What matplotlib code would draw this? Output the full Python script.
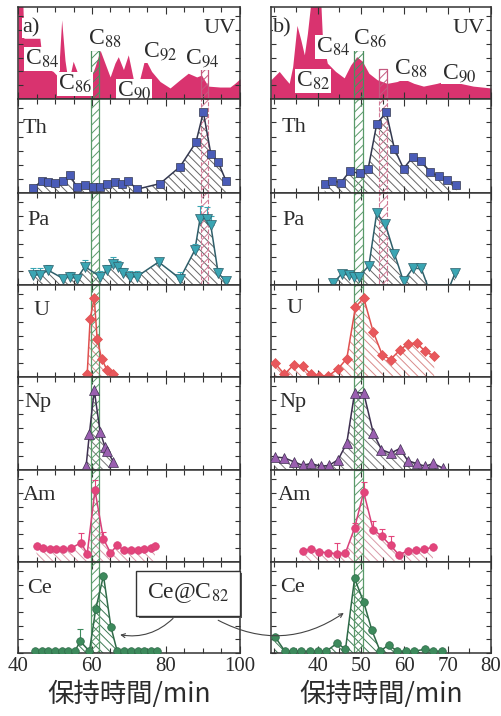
import numpy as np
import matplotlib
matplotlib.use('Agg')
import matplotlib.pyplot as plt
from matplotlib.ticker import MultipleLocator, FixedLocator
from matplotlib.text import Annotation
import matplotlib.patheffects as pe

plt.rcParams['font.family'] = ['Liberation Serif', 'DejaVu Serif']
plt.rcParams['mathtext.fontset'] = 'stix'
plt.rcParams['hatch.linewidth'] = 0.7

# ---------------- data (normalised intensities, retention time in min) ----------------
# UV traces
uv_a_x = [40.0, 41.3, 41.6, 45.9, 46.8, 49.5, 50.9, 51.8, 52.7, 53.6, 54.9, 56.8, 58.4, 59.5, 60.8,
          62.2, 63.5, 64.9, 66.2, 67.1, 68.5, 69.8, 71.2, 72.5, 74.3, 76.1, 78.4, 81.1, 83.8, 86.0,
          88.3, 89.6, 91.4, 94.6, 97.3, 98.6, 100.0]
uv_a_y = [1.05, 1.05, 0.66, 0.66, 0.35, 0.30, 0.24, 0.86, 0.42, 0.17, 0.41, 0.21, 0.13, 0.21, 0.35,
          0.53, 0.39, 0.24, 0.39, 0.46, 0.32, 0.48, 0.21, 0.15, 0.44, 0.30, 0.19, 0.12, 0.21, 0.28,
          0.24, 0.26, 0.14, 0.13, 0.13, 0.17, 0.22]
uv_b_x = [29.2, 31.1, 32.3, 33.4, 34.2, 35.2, 36.1, 36.9, 37.6, 38.4, 40.7, 41.1, 42.2, 44.1, 46.1,
          47.6, 49.0, 50.3, 51.8, 53.7, 56.0, 58.3, 59.8, 62.2, 64.4, 67.5, 70.6, 72.9, 75.9, 80.0]
uv_b_y = [0.21, 0.30, 0.23, 0.17, 0.35, 0.80, 0.64, 0.48, 0.71, 1.05, 1.05, 0.64, 0.39, 0.30, 0.23,
          0.37, 0.46, 0.41, 0.28, 0.21, 0.17, 0.19, 0.22, 0.17, 0.14, 0.17, 0.21, 0.17, 0.14, 0.12]

# panel a)
th_a_x = [44.1, 46.4, 48.2, 50.0, 52.2, 54.1, 55.9, 58.1, 60.4, 62.2, 64.0, 66.2, 68.0, 69.8, 72.1,
          78.4, 83.8, 88.1, 90.1, 92.1, 94.1, 96.2]
th_a_y = [0.05, 0.13, 0.12, 0.11, 0.13, 0.19, 0.06, 0.08, 0.06, 0.06, 0.10, 0.12, 0.10, 0.13, 0.04,
          0.10, 0.28, 0.54, 0.86, 0.42, 0.33, 0.13]
pa_a_x = [44.1, 45.9, 48.2, 52.2, 54.1, 55.9, 58.1, 62.2, 64.0, 65.8, 67.1, 68.5, 70.3, 72.1, 78.0,
          83.8, 87.8, 89.2, 91.0, 92.1, 94.1, 96.2]
pa_a_y = [0.11, 0.11, 0.16, 0.07, 0.09, 0.07, 0.20, 0.09, 0.16, 0.23, 0.20, 0.13, 0.09, 0.09, 0.25,
          0.07, 0.38, 0.72, 0.72, 0.65, 0.13, 0.04]
pa_a_err = [0.07, 0.07, 0.06, 0.0, 0.05, 0.0, 0.07, 0.06, 0.06, 0.07, 0.06, 0.06, 0.06, 0.06, 0.04,
            0.07, 0.07, 0.14, 0.13, 0.10, 0.06, 0.03]
u_a_x = [58.7, 59.5, 60.6, 61.4, 62.6, 64.0, 65.8]
u_a_y = [0.03, 0.63, 0.86, 0.41, 0.20, 0.08, 0.03]
np_a_x = [58.4, 59.3, 60.6, 62.2, 63.5, 64.1, 65.8]
np_a_y = [0.04, 0.39, 0.86, 0.41, 0.25, 0.20, 0.09]
am_a_x = [45.0, 46.8, 48.6, 50.4, 52.2, 54.4, 57.0, 58.7, 60.8, 63.1, 65.0, 66.8, 68.6, 70.5, 72.3,
          74.0, 75.9, 77.0]
am_a_y = [0.17, 0.15, 0.14, 0.14, 0.14, 0.15, 0.21, 0.09, 0.78, 0.25, 0.10, 0.18, 0.13, 0.13, 0.13,
          0.14, 0.15, 0.17]
am_a_err = [0, 0, 0, 0, 0, 0, 0.10, 0, 0.11, 0.08, 0, 0, 0, 0, 0, 0, 0, 0]
ce_a_x = [44.6, 46.4, 48.2, 50.0, 51.8, 53.6, 55.4, 56.8, 59.3, 61.0, 63.1, 65.1, 66.8, 68.6, 70.5,
          72.3, 74.1, 75.9, 77.5]
ce_a_y = [0.02, 0.02, 0.02, 0.02, 0.02, 0.02, 0.02, 0.13, 0.02, 0.48, 0.85, 0.29, 0.02, 0.02, 0.02,
          0.02, 0.02, 0.02, 0.02]
ce_a_err = [0, 0, 0, 0, 0, 0, 0, 0.13, 0, 0, 0, 0, 0, 0, 0, 0, 0, 0, 0]

# panel b)
th_b_x = [41.6, 43.4, 45.3, 47.4, 49.7, 51.6, 53.6, 55.8, 57.7, 59.8, 61.9, 63.9, 66.0, 67.9, 69.8, 72.0]
th_b_y = [0.10, 0.13, 0.11, 0.23, 0.21, 0.25, 0.73, 0.86, 0.47, 0.26, 0.38, 0.34, 0.22, 0.18, 0.14, 0.08]
pa_b_x = [43.6, 45.5, 47.2, 48.4, 49.5, 51.8, 53.6, 55.6, 57.7, 59.8, 61.9, 63.9, 65.3, 70.6, 71.7]
pa_b_y = [0.02, 0.12, 0.11, 0.09, 0.09, 0.21, 0.78, 0.66, 0.34, 0.04, 0.18, 0.18, 0.0, 0.0, 0.13]
pa_b_err = [0.0, 0.04, 0.04, 0.04, 0.04, 0.04, 0.04, 0.04, 0.0, 0.0, 0.04, 0.04, 0.0, 0.0, 0.04]
u_b_x = [30.1, 32.3, 34.4, 36.5, 38.4, 40.3, 42.4, 44.7, 46.7, 48.7, 50.6, 52.8, 54.9, 56.8, 58.9,
         60.8, 62.8, 64.8, 66.9]
u_b_y = [0.15, 0.03, 0.13, 0.12, 0.03, 0.01, 0.01, 0.09, 0.20, 0.76, 0.86, 0.49, 0.24, 0.19, 0.29,
         0.36, 0.37, 0.28, 0.23]
np_b_x = [30.1, 32.3, 34.4, 36.5, 38.4, 40.7, 42.6, 44.7, 46.7, 48.5, 50.6, 52.8, 54.7, 56.8, 58.9,
          60.8, 62.8, 64.8, 66.7, 68.9]
np_b_y = [0.14, 0.13, 0.09, 0.05, 0.07, 0.04, 0.05, 0.11, 0.29, 0.83, 0.83, 0.40, 0.22, 0.18, 0.23,
          0.10, 0.07, 0.04, 0.07, 0.02]
am_b_x = [36.5, 38.4, 40.3, 42.4, 44.5, 46.4, 48.5, 50.6, 52.8, 54.8, 56.8, 58.7, 60.8, 62.7, 64.6, 66.6]
am_b_y = [0.12, 0.14, 0.11, 0.10, 0.09, 0.10, 0.37, 0.76, 0.35, 0.28, 0.18, 0.08, 0.12, 0.13, 0.14, 0.16]
am_b_err = [0, 0, 0, 0, 0.12, 0, 0.05, 0.11, 0.10, 0.08, 0.10, 0, 0, 0, 0, 0]
ce_b_x = [30.1, 32.4, 34.3, 36.2, 38.1, 40.0, 42.0, 44.5, 46.4, 48.5, 50.6, 52.5, 54.4, 56.4, 58.3,
          60.3, 62.2, 64.7, 66.7, 68.8]
ce_b_y = [0.18, 0.02, 0.02, 0.02, 0.02, 0.02, 0.02, 0.11, 0.04, 0.82, 0.56, 0.25, 0.02, 0.09, 0.02,
          0.02, 0.02, 0.04, 0.02, 0.02]

elements = ['Th', 'Pa', 'U', 'Np', 'Am', 'Ce']
uv_a_labels = ['84', '86', '88', '90', '92', '94']
uv_b_labels = ['82', '84', '86', '88', '90']
green_band = [(59.8, 62.0), (48.4, 50.5)]
pink_band = [(89.4, 91.4), (54.1, 56.0)]

# ---------------- styles ----------------
styles = {
    'Th': dict(marker='s', mc='#4a5cb8', lc='#33384f', hc='#666666', ms=5.5),
    'Pa': dict(marker='v', mc='#3aa5b3', lc='#2f5f6a', hc='#666666', ms=6.5),
    'U':  dict(marker='D', mc='#e8575c', lc='#e0504f', hc='#d98a8a', ms=5.0),
    'Np': dict(marker='^', mc='#9a5fb0', lc='#3e3050', hc='#777777', ms=6.5),
    'Am': dict(marker='o', mc='#e3457b', lc='#d8407a', hc='#d99aa8', ms=5.5),
    'Ce': dict(marker='o', mc='#3d8a5c', lc='#2f6a48', hc='#3f7a55', ms=5.5),
}
uv_color = '#d9336f'
txt_color = '#2b2b2b'
frame_color = '#333333'

W, H = 502, 716
edges = [7, 99, 193, 285, 377, 470, 562, 653]
cols = [(18, 240), (271, 491)]
xlims = [(40, 100), (29.2, 80)]

fig = plt.figure(figsize=(W / 100, H / 100), dpi=100)

axes = [[None] * 7 for _ in range(2)]
for c in range(2):
    x0, x1 = cols[c]
    for r in range(7):
        ax = fig.add_axes([x0 / W, 1 - edges[r + 1] / H, (x1 - x0) / W, (edges[r + 1] - edges[r]) / H])
        ax.set_xlim(*xlims[c])
        ax.set_ylim(0, 1)
        for s in ax.spines.values():
            s.set_color(frame_color)
            s.set_linewidth(1.1)
        if c == 0:
            ax.xaxis.set_major_locator(FixedLocator([40, 60, 80, 100]))
        else:
            ax.xaxis.set_major_locator(FixedLocator([40, 50, 60, 70, 80]))
        ax.xaxis.set_minor_locator(MultipleLocator(5))
        ax.yaxis.set_major_locator(MultipleLocator(0.15))
        ax.tick_params(axis='both', which='both', direction='in', top=True, right=True,
                       color=frame_color, width=0.8, labelsize=15, labelcolor=txt_color, pad=3)
        ax.tick_params(axis='x', which='major', length=5)
        ax.tick_params(axis='x', which='minor', length=3.5)
        ax.tick_params(axis='y', which='major', length=3.5)
        ax.set_yticklabels([])
        if r < 6:
            ax.set_xticklabels([])
        axes[c][r] = ax


def draw_series(ax, x, y, err, st):
    x = np.asarray(x, float)
    y = np.asarray(y, float)
    ax.fill_between(x, 0, y, facecolor='none', edgecolor=st['hc'], hatch='\\\\\\\\', linewidth=0, zorder=1)
    ax.plot(x, y, color=st['lc'], lw=1.1, zorder=3)
    if err is not None:
        e = np.asarray(err, float)
        m = e > 0
        ax.errorbar(x[m], y[m], yerr=[np.zeros(m.sum()), e[m]], fmt='none', ecolor=st['mc'],
                    elinewidth=0.8, capsize=2, capthick=0.8, zorder=3)
    vis = y > 0.005
    ax.plot(x[vis], y[vis], linestyle='none', marker=st['marker'], ms=st['ms'], mfc=st['mc'],
            mec=st['lc'], mew=0.5, zorder=4)


series = {
    0: {'Th': (th_a_x, th_a_y, None), 'Pa': (pa_a_x, pa_a_y, pa_a_err), 'U': (u_a_x, u_a_y, None),
        'Np': (np_a_x, np_a_y, None), 'Am': (am_a_x, am_a_y, am_a_err), 'Ce': (ce_a_x, ce_a_y, ce_a_err)},
    1: {'Th': (th_b_x, th_b_y, None), 'Pa': (pa_b_x, pa_b_y, pa_b_err), 'U': (u_b_x, u_b_y, None),
        'Np': (np_b_x, np_b_y, None), 'Am': (am_b_x, am_b_y, am_b_err), 'Ce': (ce_b_x, ce_b_y, None)},
}

label_pos = {0: [(0.02, 0.64), (0.04, 0.65), (0.07, 0.67), (0.03, 0.68), (0.02, 0.67), (0.04, 0.66)],
             1: [(0.05, 0.65), (0.05, 0.65), (0.07, 0.70), (0.04, 0.68), (0.03, 0.67), (0.04, 0.67)]}

for c in range(2):
    # UV panel
    ax = axes[c][0]
    ux, uy = (uv_a_x, uv_a_y) if c == 0 else (uv_b_x, uv_b_y)
    ax.fill_between(ux, 0, uy, color=uv_color, linewidth=0, zorder=1)
    ax.text(0.98 if c == 0 else 0.97, 0.72, 'UV', transform=ax.transAxes, ha='right', va='baseline',
            fontsize=16, color=txt_color, zorder=6)
    ax.text(0.02 if c == 0 else 0.01, 0.72, 'a)' if c == 0 else 'b)', transform=ax.transAxes,
            ha='left', va='baseline', fontsize=16, color=txt_color, zorder=6,
            bbox=dict(fc='white', ec='none', pad=0.5))
    # bands
    g0, g1 = green_band[c]
    p0, p1 = pink_band[c]
    ax.fill_between([g0, g1], 0, 0.53, facecolor='none', edgecolor='#4c8f5f', hatch='////',
                    linewidth=0.9, zorder=2)
    ax.fill_between([p0, p1], 0, 0.33, facecolor='none', edgecolor='#c45a80', hatch='////',
                    linewidth=0.9, zorder=2)
    for r in range(1, 7):
        a = axes[c][r]
        a.axvspan(g0, g1, facecolor='none', edgecolor='#5a9a6a', hatch='////', linewidth=0.9, zorder=2)
        if r <= 2:
            a.axvspan(p0, p1, facecolor='none', edgecolor='#d07a95', hatch='////', linewidth=0.8,
                      linestyle='--', zorder=2)
        el = elements[r - 1]
        x, y, e = series[c][el]
        draw_series(a, x, y, e, styles[el])
        lx, ly = label_pos[c][r - 1]
        a.text(lx, ly, el, transform=a.transAxes, ha='left', va='baseline', fontsize=16,
               color=txt_color, zorder=6)

# UV fullerene labels
uv_a_pos = [(41.9, 0.37), (50.8, 0.10), (58.9, 0.59), (66.8, 0.04), (73.8, 0.46), (85.1, 0.39)]
uv_b_pos = [(35.0, 0.13), (39.5, 0.50), (48.1, 0.59), (57.5, 0.26), (68.7, 0.23)]
for lab, (px, py) in zip(uv_a_labels, uv_a_pos):
    axes[0][0].text(px, py, 'C$_{%s}$' % lab, ha='left', va='baseline', fontsize=17, color=txt_color,
                    zorder=6, bbox=dict(fc='white', ec='none', pad=0.5))
for lab, (px, py) in zip(uv_b_labels, uv_b_pos):
    axes[1][0].text(px, py, 'C$_{%s}$' % lab, ha='left', va='baseline', fontsize=17, color=txt_color,
                    zorder=6, bbox=dict(fc='white', ec='none', pad=0.5))

# x labels
for c in range(2):
    axes[c][6].set_xlabel('保持時間/min', fontsize=19, color=txt_color, labelpad=3,
                          family=['Noto Sans CJK JP', 'DejaVu Sans'])

# Ce@C82 box and arrows
axl = axes[0][6]
axr = axes[1][6]
t = axl.text(86.0, 0.655, 'Ce@C$_{82}$', ha='center', va='center', fontsize=17, color=txt_color,
             zorder=8, clip_on=False,
             bbox=dict(boxstyle='square,pad=0.45', fc='white', ec='#333333', lw=1.0))
t.get_bbox_patch().set_path_effects([pe.SimplePatchShadow(offset=(1.8, -1.8), shadow_rgbFace='#555555', alpha=1.0),
                                     pe.Normal()])
a1 = Annotation('', xy=(67.6, 0.20), xycoords=axl.transData, xytext=(81.9, 0.38),
                textcoords=axl.transData,
                arrowprops=dict(arrowstyle='->', connectionstyle='arc3,rad=-0.25', color='#444444',
                                lw=0.8, mutation_scale=7, shrinkA=0, shrinkB=0))
a2 = Annotation('', xy=(46.0, 0.44), xycoords=axr.transData, xytext=(94.1, 0.36),
                textcoords=axl.transData,
                arrowprops=dict(arrowstyle='->', connectionstyle='arc3,rad=0.3', color='#444444',
                                lw=0.8, mutation_scale=7, shrinkA=0, shrinkB=0))
for a in (a1, a2):
    a.set_zorder(5)
    fig.add_artist(a)

fig.savefig('out.png', dpi=100)
